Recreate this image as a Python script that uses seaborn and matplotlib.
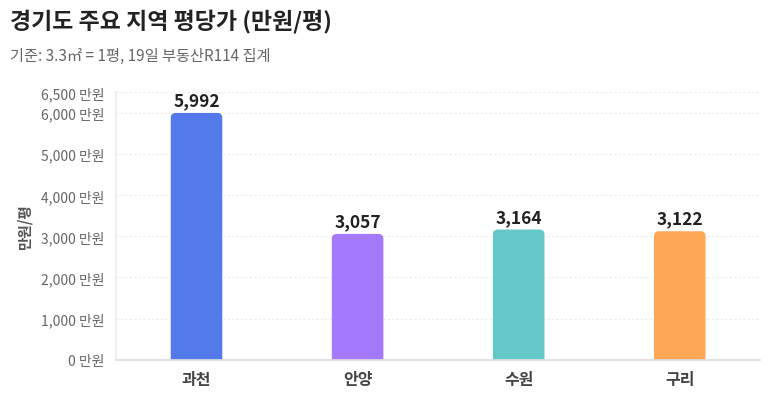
import matplotlib
matplotlib.use("Agg")
import matplotlib.pyplot as plt
import seaborn as sns
import pandas as pd
from matplotlib.patches import FancyBboxPatch
from matplotlib.ticker import FuncFormatter

regions = ["과천", "안양", "수원", "구리"]
prices = [5992, 3057, 3164, 3122]
colors = ["#5479EB", "#A579FB", "#64C8C6", "#FFA858"]
y_ticks = [0, 1000, 2000, 3000, 4000, 5000, 6000, 6500]

sns.set_theme(style="white")
plt.rcParams["font.family"] = ["Noto Sans CJK KR", "DejaVu Sans"]

df = pd.DataFrame({"region": regions, "price": prices})

fig = plt.figure(figsize=(7.68, 4.06), dpi=100)
ax = fig.add_axes([0.151, 0.111, 0.839, 0.660])

sns.barplot(data=df, x="region", y="price", hue="region", palette=colors,
            width=0.32, legend=False, ax=ax, saturation=1)

# rounded top corners
xs_per_px = 1 / 161.0
ys_per_px = 1000 / 41.3
r_px = 5
for p in list(ax.patches):
    x0, w, h = p.get_x(), p.get_width(), p.get_height()
    fc = p.get_facecolor()
    p.remove()
    fb = FancyBboxPatch((x0, -400), w, h + 400,
                        boxstyle=f"round,pad=0,rounding_size={r_px * xs_per_px}",
                        mutation_aspect=ys_per_px / xs_per_px,
                        facecolor=fc, edgecolor="none", clip_on=True, zorder=2)
    ax.add_patch(fb)

for i, v in enumerate(prices):
    ax.text(i, v + 90, f"{v:,}", ha="center", va="bottom",
            fontsize=12.5, fontweight="bold", color="#222222")

ax.set_ylim(0, 6500)
ax.set_xlim(-0.5, 3.5)
ax.set_yticks(y_ticks)
ax.yaxis.set_major_formatter(FuncFormatter(lambda v, _: f"{int(v):,} 만원"))
ax.tick_params(axis="y", labelsize=10, colors="#666666", length=0, pad=8)
ax.tick_params(axis="x", labelsize=11.5, colors="#444444", length=0, pad=8)
for lab in ax.get_xticklabels():
    lab.set_fontweight("bold")
ax.grid(axis="y", color="#EBEBEB", linestyle=(0, (2, 2)), linewidth=0.8)
ax.set_axisbelow(True)
for s in ["top", "right"]:
    ax.spines[s].set_visible(False)
ax.spines["left"].set_color("#EEEEEE")
ax.spines["bottom"].set_color("#DDDDDD")
ax.set_xlabel("")
ax.set_ylabel("만원/평", fontsize=10.5, fontweight="bold", color="#555555", labelpad=8)
ax.yaxis.set_label_coords(-0.13, 0.5)

fig.text(0.013, 0.945, "경기도 주요 지역 평당가 (만원/평)", fontsize=16.5,
         fontweight="bold", color="#222222", va="center", ha="left")
fig.text(0.013, 0.86, "기준: 3.3㎡ = 1평, 19일 부동산R114 집계", fontsize=11,
         color="#666666", va="center", ha="left")

fig.savefig("out.png", dpi=100)
